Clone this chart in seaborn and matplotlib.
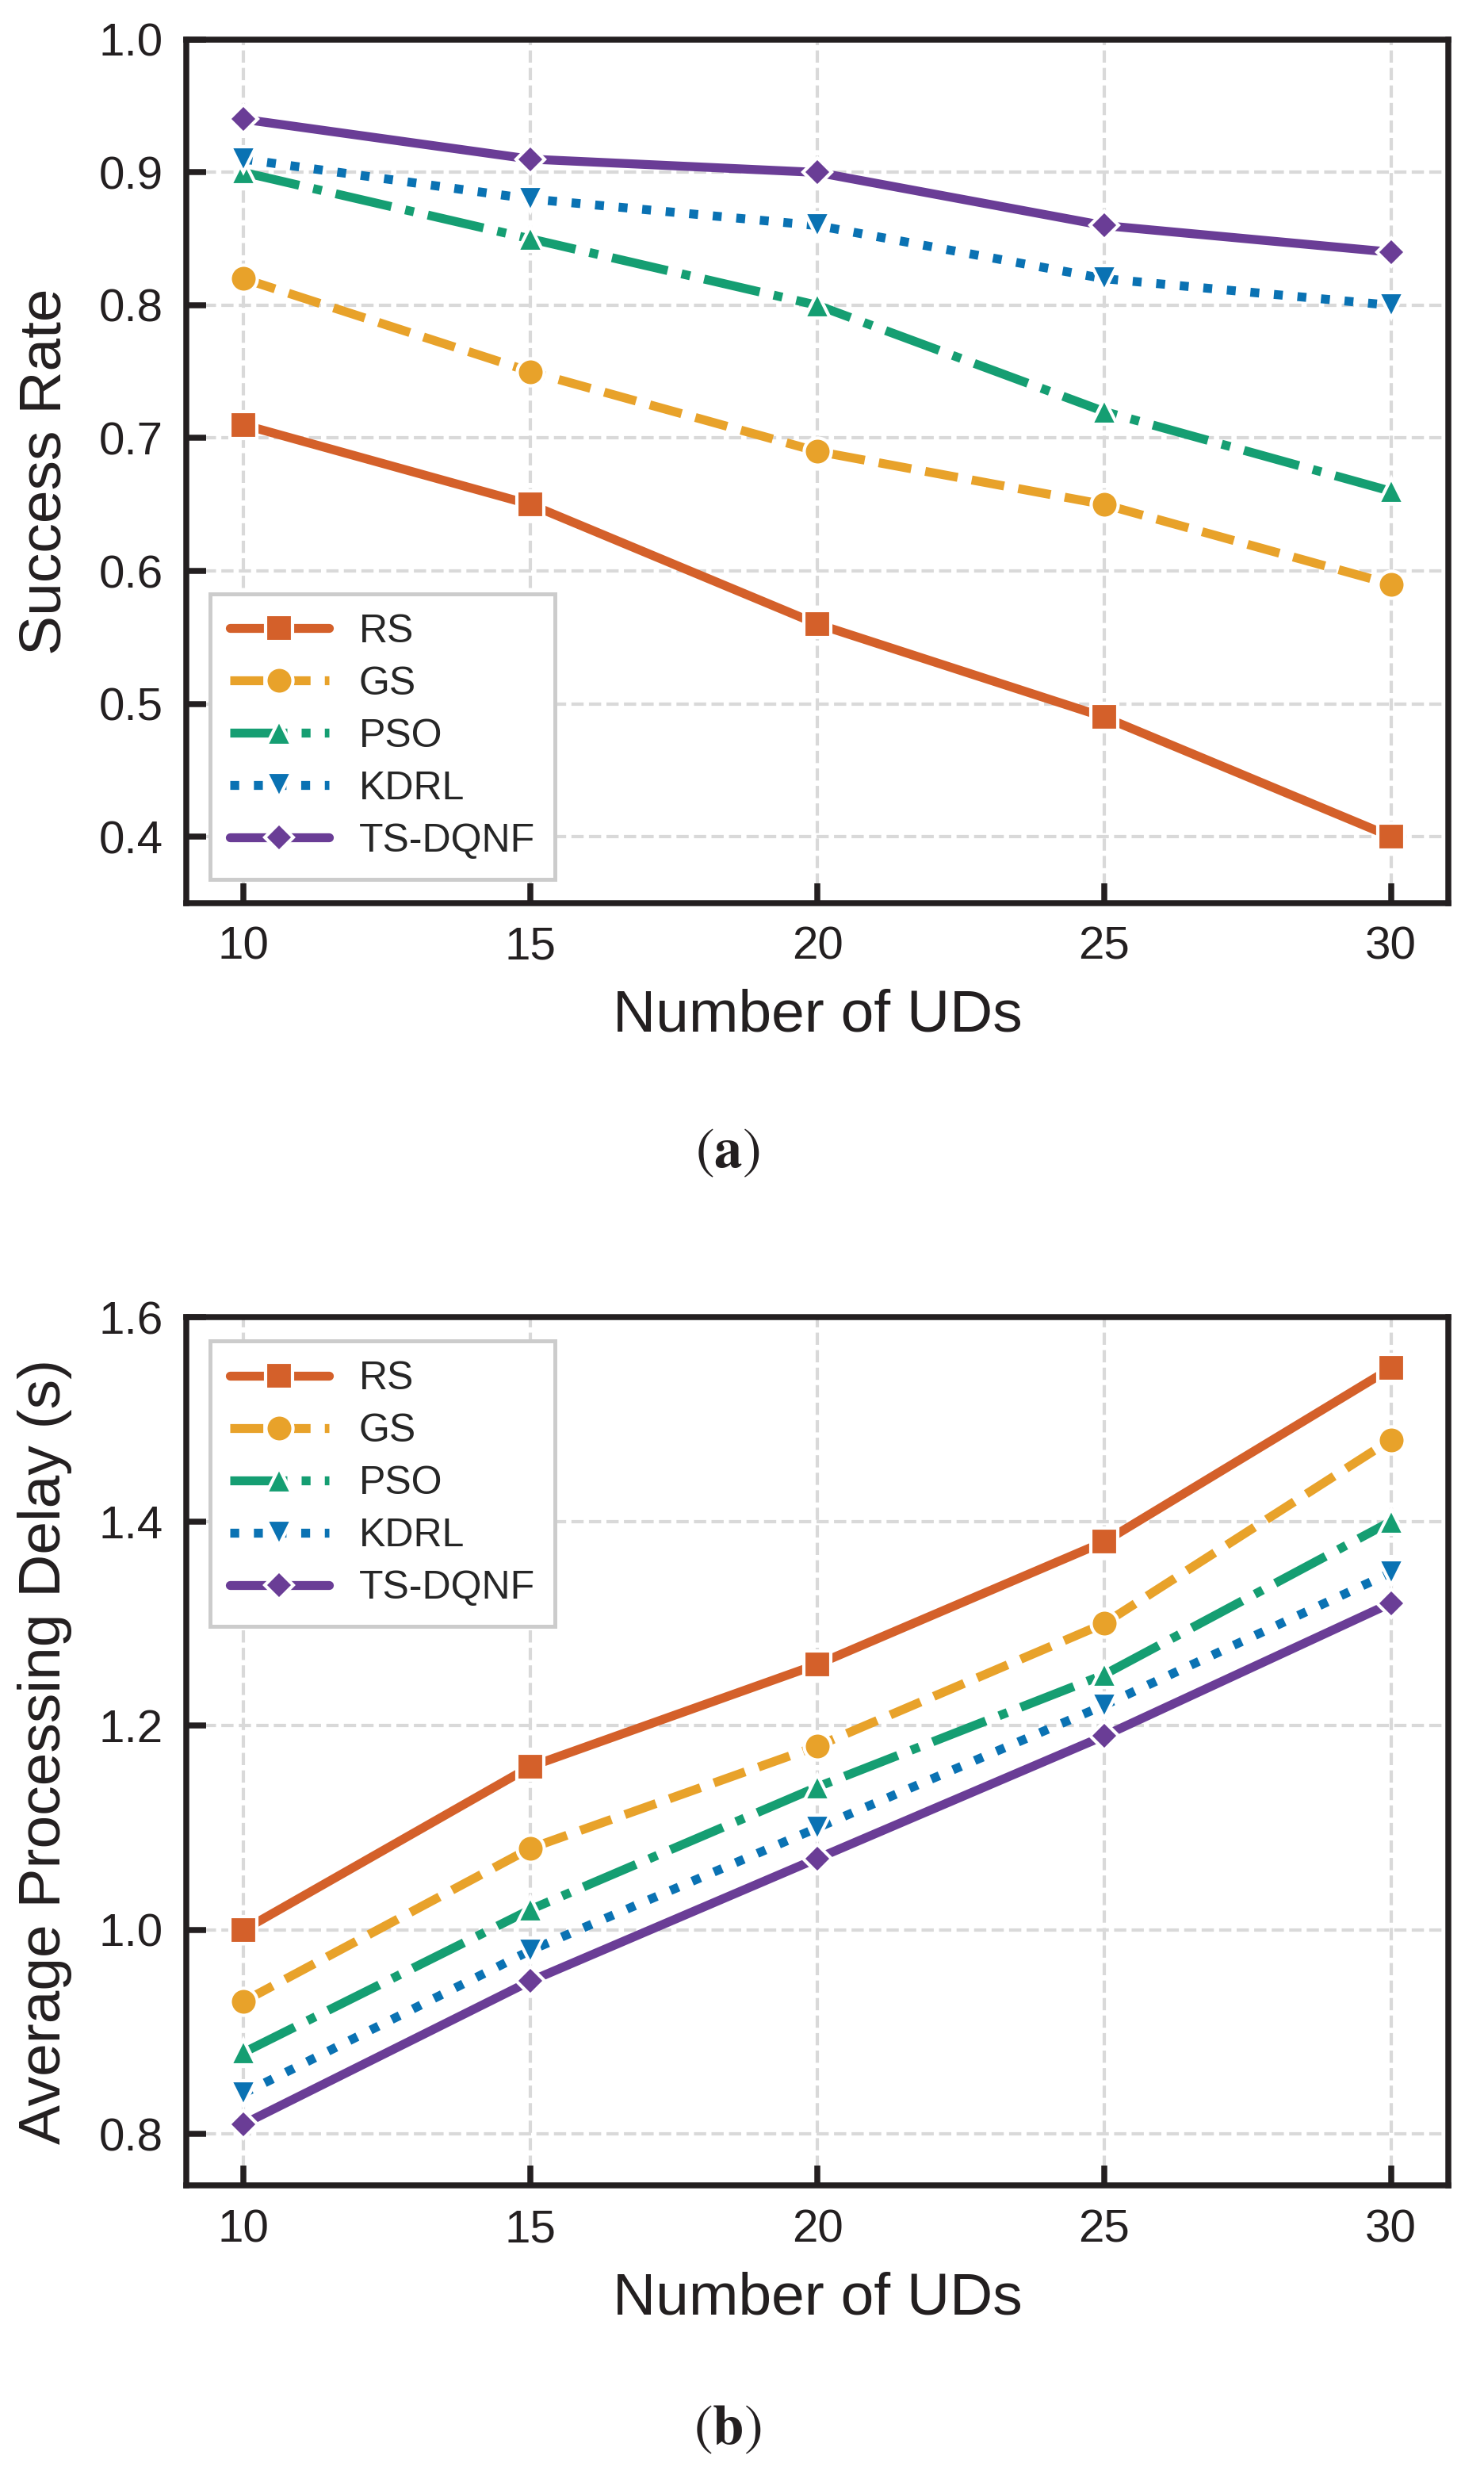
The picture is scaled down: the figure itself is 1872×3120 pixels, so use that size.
import pandas as pd
import seaborn as sns
import matplotlib.pyplot as plt
from matplotlib.ticker import FormatStrFormatter

uds = [10, 15, 20, 25, 30]
methods = ['RS', 'GS', 'PSO', 'KDRL', 'TS-DQNF']

success_rs = [0.71, 0.65, 0.56, 0.49, 0.40]
success_gs = [0.82, 0.75, 0.69, 0.65, 0.59]
success_pso = [0.90, 0.85, 0.80, 0.72, 0.66]
success_kdrl = [0.91, 0.88, 0.86, 0.82, 0.80]
success_tsdqnf = [0.94, 0.91, 0.90, 0.86, 0.84]

delay_rs = [1.00, 1.16, 1.26, 1.38, 1.55]
delay_gs = [0.93, 1.08, 1.18, 1.30, 1.48]
delay_pso = [0.88, 1.02, 1.14, 1.25, 1.40]
delay_kdrl = [0.84, 0.98, 1.10, 1.22, 1.35]
delay_tsdqnf = [0.81, 0.95, 1.07, 1.19, 1.32]

colors = ['#D4602A', '#E8A22A', '#159E72', '#0A72B3', '#6A3D96']
markers = ['s', 'o', '^', 'v', 'D']
msizes = [8, 8.2, 7.8, 7.8, 6.2]
linestyles = ['-', '--', '-.', ':', '-']

dark = '#231F20'


def make_frame(series):
    rows = []
    for m, vals in zip(methods, series):
        for x, v in zip(uds, vals):
            rows.append((x, v, m))
    return pd.DataFrame(rows, columns=['uds', 'value', 'method'])


def draw(ax, df, ylabel, ylim, yticks, legend_loc):
    for i, m in enumerate(methods):
        sub = df[df['method'] == m]
        sns.lineplot(data=sub, x='uds', y='value', ax=ax, label=m,
                     color=colors[i], marker=markers[i], linestyle=linestyles[i],
                     linewidth=2.7, markersize=msizes[i], markeredgecolor='white',
                     markeredgewidth=1.0)
    ax.set_xlim(9, 31)
    ax.set_ylim(*ylim)
    ax.set_xticks(uds)
    ax.set_yticks(yticks)
    ax.yaxis.set_major_formatter(FormatStrFormatter('%.1f'))
    ax.grid(True, linestyle='--', color='#d9d9d9', linewidth=1.0)
    ax.set_axisbelow(True)
    ax.tick_params(direction='in', length=6, width=1.8, labelsize=14, pad=7,
                   colors=dark)
    for s in ax.spines.values():
        s.set_linewidth(1.8)
        s.set_color(dark)
    ax.set_xlabel('Number of UDs', fontsize=18, labelpad=6, color=dark)
    ax.set_ylabel(ylabel, fontsize=18, labelpad=8, color=dark)
    h, l = ax.get_legend_handles_labels()
    leg = ax.legend(h, l, loc=legend_loc, fontsize=12, handlelength=2.5,
                    handletextpad=0.75, labelspacing=0.4, borderaxespad=0.6,
                    fancybox=False, framealpha=1, edgecolor='#cccccc',
                    borderpad=0.5)
    leg.get_frame().set_linewidth(1.2)


sns.set_theme(style="ticks")
plt.rcParams['font.family'] = ['Liberation Sans', 'DejaVu Sans']
plt.rcParams['mathtext.fontset'] = 'stix'

fig = plt.figure(figsize=(6.24, 10.4), dpi=300)
ax1 = fig.add_axes([0.1255, 0.635, 0.8505, 0.349])
ax2 = fig.add_axes([0.1255, 0.1167, 0.8505, 0.3509])

df_a = make_frame([success_rs, success_gs, success_pso, success_kdrl, success_tsdqnf])
df_b = make_frame([delay_rs, delay_gs, delay_pso, delay_kdrl, delay_tsdqnf])

draw(ax1, df_a, 'Success Rate', (0.35, 1.0), [0.4, 0.5, 0.6, 0.7, 0.8, 0.9, 1.0], 'lower left')
draw(ax2, df_b, 'Average Processing Delay (s)', (0.75, 1.6), [0.8, 1.0, 1.2, 1.4, 1.6], 'upper left')

fig.text(0.49, 0.534, r'$(\mathbf{a})$', ha='center', va='center', fontsize=17, color=dark)
fig.text(0.49, 0.018, r'$(\mathbf{b})$', ha='center', va='center', fontsize=17, color=dark)

fig.savefig('out.png', dpi=300)
